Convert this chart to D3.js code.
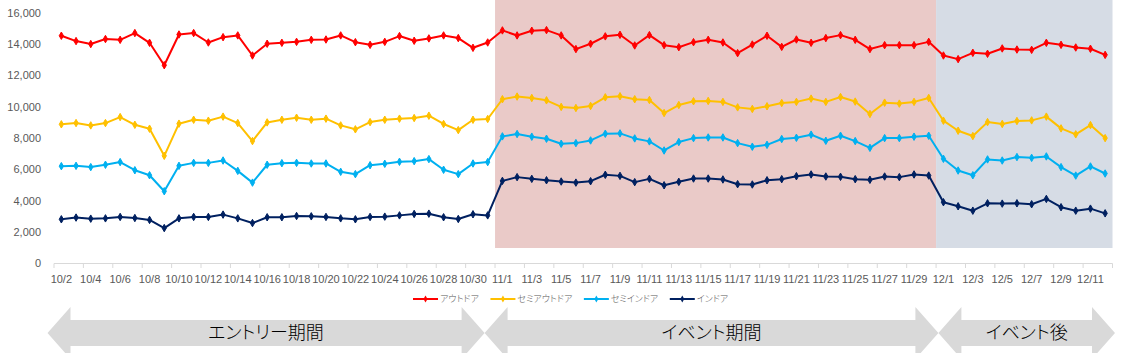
<!DOCTYPE html>
<html><head><meta charset="utf-8">
<script src="https://cdn.jsdelivr.net/npm/d3@7"></script>
<style>
body{margin:0;background:#fff}
svg{display:block}
.jp{font-family:"Noto Sans CJK JP","Noto Sans",sans-serif;font-feature-settings:"palt"}
</style>
</head><body>
<svg id="c" width="1125" height="353"></svg>
<script>
const dates = ["10/2","10/3","10/4","10/5","10/6","10/7","10/8","10/9","10/10","10/11","10/12","10/13","10/14","10/15","10/16","10/17","10/18","10/19","10/20","10/21","10/22","10/23","10/24","10/25","10/26","10/27","10/28","10/29","10/30","10/31",
"11/1","11/2","11/3","11/4","11/5","11/6","11/7","11/8","11/9","11/10","11/11","11/12","11/13","11/14","11/15","11/16","11/17","11/18","11/19","11/20","11/21","11/22","11/23","11/24","11/25","11/26","11/27","11/28","11/29","11/30",
"12/1","12/2","12/3","12/4","12/5","12/6","12/7","12/8","12/9","12/10","12/11","12/12"];

const seriesNames = ["アウトドア","セミアウトドア","セミインドア","インドア"];
const seriesColors = ["#FF0000","#FFC000","#00B0F0","#002060"];

const outdoor = [14530,14190,14000,14320,14270,14700,14080,12650,14610,14700,14100,14440,
14550,13270,14020,14080,14140,14270,14290,14550,14120,13950,14140,14510,
14210,14360,14550,14380,13760,14100,14870,14550,14850,14890,14550,13680,
14020,14490,14590,13910,14570,13930,13800,14120,14270,14100,13420,13970,
14530,13820,14290,14080,14380,14570,14270,13680,13930,13930,13930,14140,
13270,13040,13440,13380,13720,13650,13630,14080,13950,13780,13700,13310];

const semiOutdoor = [8880,8960,8810,8960,9340,8850,8600,6870,8920,9170,9110,9370,
8960,7810,9000,9170,9300,9170,9240,8810,8560,9020,9170,9240,
9280,9430,8900,8510,9170,9220,10480,10650,10560,10410,9990,9920,
10050,10600,10670,10480,10430,9600,10110,10350,10370,10310,9960,9860,
10030,10240,10310,10520,10310,10620,10330,9540,10260,10200,10310,10560,
9110,8470,8130,9020,8900,9090,9130,9370,8620,8240,8830,8000];

const semiIndoor = [6210,6230,6150,6300,6470,5950,5630,4610,6230,6420,6420,6570,
5910,5160,6300,6400,6420,6380,6380,5850,5700,6270,6360,6490,
6530,6660,5980,5700,6380,6470,8110,8260,8090,7960,7640,7680,
7850,8280,8300,7980,7790,7210,7750,8000,8040,8040,7680,7450,
7570,7940,8020,8220,7830,8150,7810,7380,8000,8000,8090,8150,
6680,5930,5630,6640,6570,6790,6740,6830,6150,5610,6190,5740];

const indoor = [2820,2930,2860,2880,2970,2900,2780,2260,2880,2970,2970,3120,
2880,2580,2950,2950,3030,3010,2970,2880,2820,2970,2990,3070,
3160,3180,2950,2840,3140,3070,5270,5510,5400,5310,5230,5160,
5250,5660,5590,5190,5400,4990,5210,5420,5420,5360,5060,5040,
5310,5380,5570,5680,5550,5530,5380,5340,5550,5510,5680,5610,
3910,3650,3370,3840,3820,3840,3780,4120,3590,3370,3500,3200];

const yTicks = [0,2000,4000,6000,8000,10000,12000,14000,16000];

// shaded periods (from first date to last date inclusive)
const shadeFrom = ["11/1","12/1"];
const shadeTo = ["11/30","12/12"];
const shadeColors = ["#EACAC8","#D6DCE5"];

// period arrows
const periodLabels = ["エントリー期間","イベント期間","イベント後"];

const series = [outdoor, semiOutdoor, semiIndoor, indoor];

const svg = d3.select("#c");

const x = d3.scaleBand().domain(dates).range([54, 1112.5]).paddingInner(0).paddingOuter(0);
const y = d3.scaleLinear().domain([0,16000]).range([263.5, 12.7]);

// shading
shadeFrom.forEach((s,i)=>{
  const x0 = x(s), x1 = x(shadeTo[i]) + x.bandwidth();
  svg.append("rect").attr("x",x0).attr("y",0).attr("width",x1-x0).attr("height",248)
    .attr("fill",shadeColors[i]);
});

// y axis labels
svg.append("g").selectAll("text").data(yTicks).join("text")
  .attr("x",41).attr("y",d=>y(d)).attr("dy","0.35em")
  .attr("text-anchor","end")
  .attr("font-family","'Liberation Sans',Arial,sans-serif").attr("font-size",11)
  .attr("fill","#595959")
  .text(d=>d3.format(",")(d));

// x axis
const xg = svg.append("g");
xg.append("line").attr("x1",x.range()[0]).attr("x2",x.range()[1])
  .attr("y1",263.5).attr("y2",263.5).attr("stroke","#D9D9D9").attr("stroke-width",1);
const tickIdx = d3.range(0, dates.length+1, 2);
xg.selectAll("line.t").data(tickIdx).join("line").attr("class","t")
  .attr("x1",i=> i<dates.length ? x(dates[i]) : x.range()[1])
  .attr("x2",i=> i<dates.length ? x(dates[i]) : x.range()[1])
  .attr("y1",263.5).attr("y2",268).attr("stroke","#D9D9D9");
xg.selectAll("text").data(dates.filter((d,i)=>i%2===0)).join("text")
  .attr("x",d=>x(d)+x.bandwidth()/2).attr("y",282.5)
  .attr("text-anchor","middle")
  .attr("font-family","'Liberation Sans',Arial,sans-serif").attr("font-size",11)
  .attr("fill","#595959")
  .text(d=>d);

// lines
const line = d3.line().x((d,i)=>x(dates[i])+x.bandwidth()/2).y(d=>y(d));
const sym = d3.symbol().type(d3.symbolDiamond).size(16);
series.forEach((vals,k)=>{
  const g = svg.append("g");
  g.append("path").datum(vals).attr("d",line).attr("fill","none")
    .attr("stroke",seriesColors[k]).attr("stroke-width",2).attr("stroke-linejoin","round");
  g.selectAll("path.m").data(vals).join("path").attr("class","m")
    .attr("transform",(d,i)=>`translate(${x(dates[i])+x.bandwidth()/2},${y(d)})`)
    .attr("d",sym).attr("fill",seriesColors[k]).attr("stroke",seriesColors[k]).attr("stroke-width",1);
});

// legend
const lg = svg.append("g");
let lx = 413;
const ly = 299;
seriesNames.forEach((n,k)=>{
  lg.append("line").attr("x1",lx).attr("x2",lx+25).attr("y1",ly).attr("y2",ly)
    .attr("stroke",seriesColors[k]).attr("stroke-width",2);
  lg.append("path").attr("transform",`translate(${lx+12.5},${ly})`).attr("d",d3.symbol().type(d3.symbolDiamond).size(14))
    .attr("fill",seriesColors[k]);
  const t = lg.append("text").attr("class","jp").attr("x",lx+27).attr("y",ly).attr("dy","0.35em")
    .attr("font-size",9).attr("font-weight",300).attr("fill","#595959").text(n);
  const w = t.node().getComputedTextLength();
  lx = lx + 27 + w + 11.5;
});

// arrows
const tips = [47.5, 484.6, 938.4, 1115];
const cy = 333, hl = 23, hh = 26, bh = 13;
periodLabels.forEach((lab,i)=>{
  const x0 = tips[i], x1 = tips[i+1];
  const pts = [[x0,cy],[x0+hl,cy-hh],[x0+hl,cy-bh],[x1-hl,cy-bh],[x1-hl,cy-hh],[x1,cy],
               [x1-hl,cy+hh],[x1-hl,cy+bh],[x0+hl,cy+bh],[x0+hl,cy+hh]];
  svg.append("polygon").attr("points",pts.map(p=>p.join(",")).join(" ")).attr("fill","#D9D9D9");
  svg.append("text").attr("class","jp").attr("x",(x0+x1)/2).attr("y",cy).attr("dy","0.36em")
    .attr("text-anchor","middle").attr("font-size",18).attr("font-weight",300).attr("fill","#000").text(lab);
});
</script>
</body></html>
